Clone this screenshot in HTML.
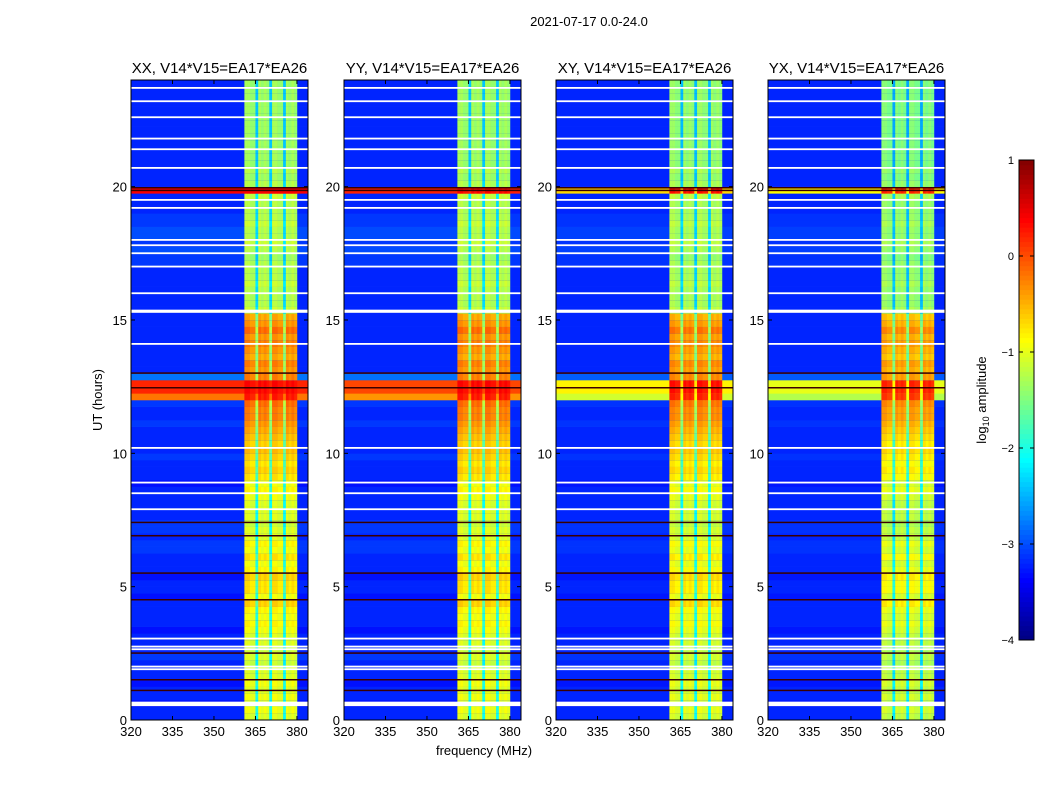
<!DOCTYPE html>
<html><head><meta charset="utf-8"><style>
body{margin:0;background:#fff;width:1050px;height:800px;overflow:hidden;font-family:"Liberation Sans",sans-serif}
svg{position:absolute;left:0;top:0}
</style></head><body>
<svg id="chart" width="1050" height="800"></svg>
<script>
// ---- data ----
const panelTitles=["XX, V14*V15=EA17*EA26","YY, V14*V15=EA17*EA26","XY, V14*V15=EA17*EA26","YX, V14*V15=EA17*EA26"];
const panelLeft=[131,344,556,768];
const panelBandOffset=[0,0,-0.05,-0.15];
const panelCrossScale=[1,0.95,0.7,0.65];
const xTicks=[320,335,350,365,380];
const yTicks=[0,5,10,15,20];
const cbTicks=[1,0,-1,-2,-3,-4];
// log10 amplitude in band per 0.25 h row (0..24h)
const rowBand=[-1.1,-1.0,-1.1,-1.0,-1.1,-1.0,-1.1,-1.1,-1.2,-1.1,-1.2,-1.1,-1.1,-1.0,-0.9,-1.0,
-0.9,-0.7,-1.0,-0.8,-0.8,-0.7,-0.9,-1.0,-0.8,-1.0,-0.9,-1.1,-1.1,-1.2,-1.1,-1.1,
-1.1,-1.0,-0.9,-1.0,-0.8,-0.7,-0.8,-0.7,-0.6,-0.7,-0.6,-0.5,-0.4,-0.3,-0.3,-0.2,
0.2,0.3,0.3,-0.3,-0.4,-0.3,-0.5,-0.4,-0.3,-0.4,-0.2,-0.4,-0.5,-1.2,-1.3,-1.3,
-1.3,-1.2,-1.3,-1.3,-1.3,-1.4,-1.3,-1.2,-1.3,-1.3,-1.2,-1.3,-1.3,-1.3,-1.2,0.3,
-1.3,-1.4,-1.3,-1.4,-1.4,-1.4,-1.4,-1.4,-1.4,-1.4,-1.4,-1.4,-1.4,-1.4,-1.4,-1.4];
// background log10 amplitude per row
const rowBg=[-3.2,-3.2,-3.3,-3.2,-3.2,-3.3,-3.2,-3.2,-3.2,-3.1,-3.2,-3.2,-3.2,-3.3,-3.2,-3.2,
-3.2,-3.2,-3.3,-3.2,-3.2,-3.3,-3.2,-3.2,-3.2,-3.1,-3.1,-3.2,-3.1,-3.1,-3.2,-3.2,
-3.2,-3.2,-3.2,-3.3,-3.2,-3.2,-3.2,-3.1,-3.2,-3.2,-3.2,-3.2,-3.1,-3.2,-3.2,-3.1,
-0.2,0.2,0.2,-2.8,-3.2,-3.2,-3.2,-3.2,-3.2,-3.2,-3.2,-3.2,-3.2,-3.2,-3.2,-3.2,
-3.2,-3.2,-3.2,-3.2,-3.1,-3.1,-3.0,-3.1,-3.0,-3.0,-3.1,-3.1,-3.2,-3.2,-3.2,0.4,
-3.2,-3.2,-3.2,-3.2,-3.2,-3.2,-3.2,-3.2,-3.2,-3.2,-3.2,-3.2,-3.2,-3.2,-3.2,-3.2];
// per-1MHz column band offset (null = outside band), 320..383
const colBand=[null,null,null,null,null,null,null,null,null,null,null,null,null,null,null,null,null,null,null,null,
null,null,null,null,null,null,null,null,null,null,null,null,null,null,null,null,null,null,null,null,
null,0.1,0.1,0.0,0.0,-1.0,0.1,0.0,0.1,0.0,-1.0,0.1,0.1,0.0,0.0,-1.0,0.1,0.0,0.1,0.0,null,null,null,null];
const darkLines=[1.1,1.5,2.5,4.5,5.5,6.9,7.4,12.45,13.0,19.85,19.95];
const flagLines=[0.55,0.6,0.65,1.9,2.0,2.65,2.75,3.05,7.9,8.5,8.9,10.2,14.1,15.3,15.35,16.0,17.0,17.5,17.8,18.0,19.2,19.5,20.7,21.4,21.8,22.6,23.2,23.7];
// ---- helpers ----
const NS="http://www.w3.org/2000/svg";
const svg=document.getElementById('chart');
const PW=177,TOP=80,BOT=720;
const F0=320,F1=384,H1=24;
function xs(i,f){return panelLeft[i]+(f-F0)/(F1-F0)*PW;}
function ys(h){return BOT-h/H1*(BOT-TOP);}
function jet(v){let t=Math.max(0,Math.min(1,(v+4)/5));
 const c=x=>Math.round(255*Math.max(0,Math.min(1,x)));
 return `rgb(${c(1.5-Math.abs(4*t-3))},${c(1.5-Math.abs(4*t-2))},${c(1.5-Math.abs(4*t-1))})`;}
function el(tag,attrs,parent){const e=document.createElementNS(NS,tag);for(const k in attrs)e.setAttribute(k,attrs[k]);(parent||svg).appendChild(e);return e;}
function txt(x,y,s,size,anchor,parent,rot){const t=el('text',{x:x,y:y,'font-size':size,'text-anchor':anchor||'middle','font-family':'Liberation Sans, sans-serif'},parent);if(rot)t.setAttribute('transform',`rotate(-90 ${x} ${y})`);t.textContent=s;return t;}
const st=txt(589,26,"2021-07-17 0.0-24.0",13);

for(let p=0;p<4;p++){
 const g=el('g',{});
 
 
 for(let r=0;r<rowBand.length;r++){
  const h0=r*H1/rowBand.length,h1=(r+1)*H1/rowBand.length;
  const bg=-3.2+(rowBg[r]+3.2)*panelCrossScale[p];
  el('rect',{x:xs(p,F0),y:ys(h1),width:PW,height:ys(h0)-ys(h1)+0.3,fill:jet(bg)},g);
  for(let c=0;c<colBand.length;c++){
   if(colBand[c]===null)continue;
   let v=Math.max(rowBand[r]+colBand[c]+panelBandOffset[p],bg);
   el('rect',{x:xs(p,F0+c),y:ys(h1),width:xs(p,F0+c+1)-xs(p,F0+c)+0.3,height:ys(h0)-ys(h1)+0.3,fill:jet(v)},g);
  }
 }
 darkLines.forEach(h=>{const l=el('rect',{x:xs(p,F0),y:ys(h)-1,width:PW,height:1.5,fill:'#3a0000'},g);});
 flagLines.forEach(h=>{const l=el('rect',{x:xs(p,F0),y:ys(h)-1,width:PW,height:1.8,fill:'#fff'},g);});
 const fr=el('rect',{x:panelLeft[p],y:TOP,width:PW,height:BOT-TOP,fill:'none',stroke:'#000','stroke-width':1},g);
 
 const tt=txt(panelLeft[p]+PW/2,73,panelTitles[p],15,'middle',g);
 
 xTicks.forEach(f=>{const x=xs(p,f);el('line',{x1:x,x2:x,y1:BOT,y2:BOT-4,stroke:'#000'},g);el('line',{x1:x,x2:x,y1:TOP,y2:TOP+4,stroke:'#000'},g);
  const t=txt(x,736,String(f),13,'middle',g);});
 yTicks.forEach(h=>{const y=ys(h);el('line',{x1:panelLeft[p],x2:panelLeft[p]+4,y1:y,y2:y,stroke:'#000'},g);el('line',{x1:panelLeft[p]+PW,x2:panelLeft[p]+PW-4,y1:y,y2:y,stroke:'#000'},g);
  const t=txt(panelLeft[p]-4,y+5,String(h),13,'end',g);});
}
const xl=txt(484,755,"frequency (MHz)",13);
const yl=txt(102,400,"UT (hours)",13,'middle',null,true);
// colorbar
const cb=el('g',{});
const CBT=160,CBB=640,CBX=1019,CBW=15;
for(let i=0;i<100;i++){const v=-4+5*(i+0.5)/100;el('rect',{x:CBX,y:CBB-(i+1)*(CBB-CBT)/100,width:CBW,height:(CBB-CBT)/100+0.5,fill:jet(v)},cb);}
el('rect',{x:CBX,y:CBT,width:CBW,height:CBB-CBT,fill:'none',stroke:'#000'},cb);
cbTicks.forEach(v=>{const y=CBB-(v+4)/5*(CBB-CBT);el('line',{x1:CBX,x2:CBX+4,y1:y,y2:y,stroke:'#000'},cb);el('line',{x1:CBX+CBW,x2:CBX+CBW-4,y1:y,y2:y,stroke:'#000'},cb);
 const t=txt(CBX-5,y+4,v<0?'\u2212'+(-v):String(v),11,'end',cb);});
const cl=el('text',{x:986,y:400,'font-size':13,'text-anchor':'middle','font-family':'Liberation Sans, sans-serif',transform:'rotate(-90 986 400)'});
cl.innerHTML='log<tspan font-size="9" dy="3">10</tspan><tspan dy="-3"> amplitude</tspan>';

</script></body></html>
